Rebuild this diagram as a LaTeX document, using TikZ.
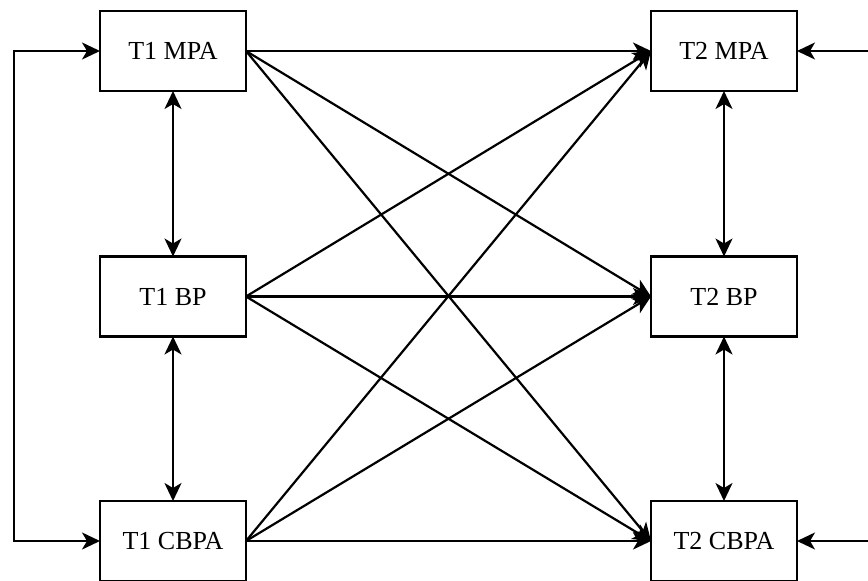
\documentclass[tikz,border=0pt]{standalone}
\usepackage{fontspec}
\setmainfont{Liberation Serif}
\usetikzlibrary{arrows.meta}
\begin{document}
\begin{tikzpicture}[x=1pt,y=-1pt,
  box/.style={draw,line width=2.2pt,minimum width=146pt,minimum height=80pt,inner sep=0pt,outer sep=0pt,font=\fontsize{26}{30}\selectfont},
  conn/.style={line width=2.2pt,-{Stealth[length=18pt,width=17pt,inset=5pt]}},
  dconn/.style={line width=2.2pt,{Stealth[length=18pt,width=17pt,inset=5pt]}-{Stealth[length=18pt,width=17pt,inset=5pt]}}]
\useasboundingbox (0,0) rectangle (868,581);
\node[box] (a1) at (173,51) {T1 MPA};
\node[box] (b1) at (173,296.5) {T1 BP};
\node[box] (c1) at (173,541) {T1 CBPA};
\node[box] (a2) at (724,51) {T2 MPA};
\node[box] (b2) at (724,296.5) {T2 BP};
\node[box] (c2) at (724,541) {T2 CBPA};
\coordinate (lx) at (14,0);
\coordinate (rx) at (868,0);
\draw[dconn] (a1.south) -- (b1.north);
\draw[dconn] (b1.south) -- (c1.north);
\draw[dconn] (a2.south) -- (b2.north);
\draw[dconn] (b2.south) -- (c2.north);
\draw[dconn] (a1.west) -- (a1.west -| lx) |- (c1.west);
\draw[conn] (a2.east -| rx) -- (a2.east);
\draw[conn] (c2.east -| rx) -- (c2.east);
\foreach \s in {a1,b1,c1}{
  \foreach \t in {a2,b2,c2}{
    \draw[conn] (\s.east) -- (\t.west);
  }
}
\end{tikzpicture}
\end{document}
